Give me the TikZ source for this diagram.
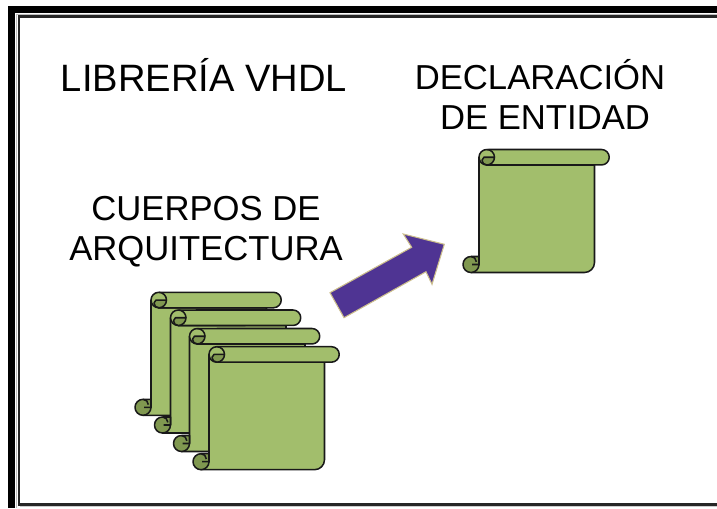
\documentclass[tikz,border=0pt]{standalone}
\usepackage{xcolor}
\usepackage{fontspec}
\setmainfont{Liberation Sans}
\usetikzlibrary{positioning}
\definecolor{scrollgreen}{RGB}{162,190,108}
\definecolor{scrolldark}{RGB}{128,152,80}
\definecolor{arrowfill}{RGB}{79,52,147}
\definecolor{arrowedge}{RGB}{204,190,140}
\tikzset{
    title/.style={align=center, font=\fontsize{26}{30}\selectfont, inner sep=0pt},
    scrollline/.style={draw=black!90, line width=1.15pt, line join=round},
    scrollpic/.pic={
        % Sheet
        \draw[scrollline, fill=scrollgreen] (0,-7.75) -- (0,-115) -- (-8,-123) -- (105.5,-123)
            arc[start angle=-90, end angle=0, radius=7.5pt] -- (115.5,-15.5) -- (7.75,-15.5) -- cycle;
        % Top roll
        \draw[scrollline, fill=scrollgreen] (0,-7.75) arc[start angle=180, end angle=90, radius=5.8pt]
            -- (122.5,0) arc[start angle=90, end angle=-90, radius=5.8pt] -- (7.75,-15.5)
            arc[start angle=-90, end angle=-180, radius=5.8pt] -- cycle;
        \draw[scrollline, fill=scrolldark] (15.5,-7.75) arc[start angle=0, end angle=-90, radius=5.8pt]
            arc[start angle=-90, end angle=-180, radius=3.6pt] -- (5,-7.75) -- cycle;
        \draw[scrollline] (7.75,0) arc[start angle=90, end angle=0, radius=5.8pt];
        % Bottom roll
        \draw[scrollline, fill=scrolldark] (-8,-107) -- (0,-107) -- (0,-115)
            arc[start angle=0, end angle=-270, radius=6pt];
        \draw[scrollline] (0,-115) -- (-7,-115) (-8,-107) arc[start angle=90, end angle=0, radius=4pt];
    }
}

\begin{document}
\begin{tikzpicture}[x=0.75pt, y=0.75pt]
\useasboundingbox (0,0) rectangle (717,508);

% Frame
\draw[black, line width=5.4pt] (11.5,0) -- (11.5,498.5) -- (717,498.5);
\draw[gray!50, line width=0.6pt] (16,0) -- (16,494) -- (717,494);
\draw[black!85, line width=1.6pt] (717,491.5) -- (19,491.5) -- (19,3.5) -- (717,3.5);
\draw[gray!40, line width=0.8pt] (20,1.2) -- (717,1.2);

% Titles
\node[title, font=\fontsize{28.6}{30}\selectfont] (libreria) at (204,433) {LIBRERÍA VHDL};
\node[title] (declaracion) at (540,414) {DECLARACIÓN\\\hspace*{7.5pt}DE ENTIDAD};
\node[title] (cuerpos) at (206,276) {CUERPOS DE\\ARQUITECTURA};

% Entity
\pic at (479,358.5) {scrollpic};

% Architectures
\pic at (151,215.7) {scrollpic};
\pic at (170.5,198) {scrollpic};
\pic at (189.5,179.5) {scrollpic};
\pic at (209,161.3) {scrollpic};

% Arrow
\draw[fill=arrowfill, draw=arrowedge, line width=0.8pt, line join=miter] (330,215.3) -- (344,190.3) -- (426,236.3)
    -- (432,223.7) -- (444.3,263.7) -- (403.3,274) -- (411.7,260.7) -- cycle;

\end{tikzpicture}
\end{document}
